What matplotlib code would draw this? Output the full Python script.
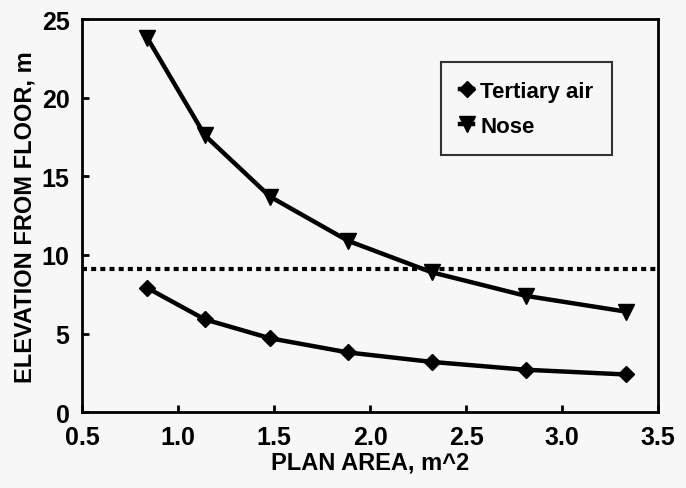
import matplotlib
matplotlib.use("Agg")
import matplotlib.pyplot as plt

plan_area = [0.84, 1.14, 1.48, 1.885, 2.32, 2.81, 3.33]
tertiary_air = [7.9, 5.9, 4.7, 3.8, 3.2, 2.7, 2.4]
nose = [23.8, 17.6, 13.7, 10.9, 8.9, 7.4, 6.4]
reference_level = 9.1
x_ticks = [0.5, 1.0, 1.5, 2.0, 2.5, 3.0, 3.5]
y_ticks = [0, 5, 10, 15, 20, 25]

plt.rcParams['font.family'] = ['Liberation Sans', 'DejaVu Sans']
plt.rcParams['font.weight'] = 'bold'

fig = plt.figure(figsize=(6.86, 4.89), dpi=100)
fig.patch.set_facecolor('#f7f7f7')
ax = fig.add_axes([0.1195, 0.155, 0.84, 0.804])
ax.set_facecolor('#f7f7f7')

ax.plot(plan_area, tertiary_air, color='black', lw=3.2, marker='D', ms=8, label='Tertiary air')
ax.plot(plan_area, nose, color='black', lw=3.2, marker='v', ms=11, label='Nose')
ax.axhline(reference_level, color='black', lw=3, ls=(0, (1.2, 1.0)))

ax.set_xlim(0.5, 3.5)
ax.set_ylim(0, 25)
ax.set_xticks(x_ticks)
ax.set_yticks(y_ticks)
ax.set_xticklabels([f"{v:.1f}" for v in x_ticks], fontsize=18, fontweight='bold')
ax.set_yticklabels([str(v) for v in y_ticks], fontsize=18, fontweight='bold')
ax.tick_params(direction='in', length=5, width=2, pad=9)
for s in ax.spines.values():
    s.set_linewidth(2)

ax.set_xlabel('PLAN AREA, m^2', fontsize=17, fontweight='bold', labelpad=1)
ax.set_ylabel('ELEVATION FROM FLOOR, m', fontsize=17, fontweight='bold', labelpad=4)

leg = ax.legend(loc='upper right', bbox_to_anchor=(0.92, 0.89),
                prop={'size': 16, 'weight': 'bold'},
                frameon=True, fancybox=False, edgecolor='black', facecolor='#f7f7f7',
                handlelength=0.6, handletextpad=0.3, borderpad=0.85, labelspacing=0.6,
                borderaxespad=0)
leg.get_frame().set_linewidth(1.5)

fig.savefig('out.png', dpi=100, facecolor=fig.get_facecolor())
